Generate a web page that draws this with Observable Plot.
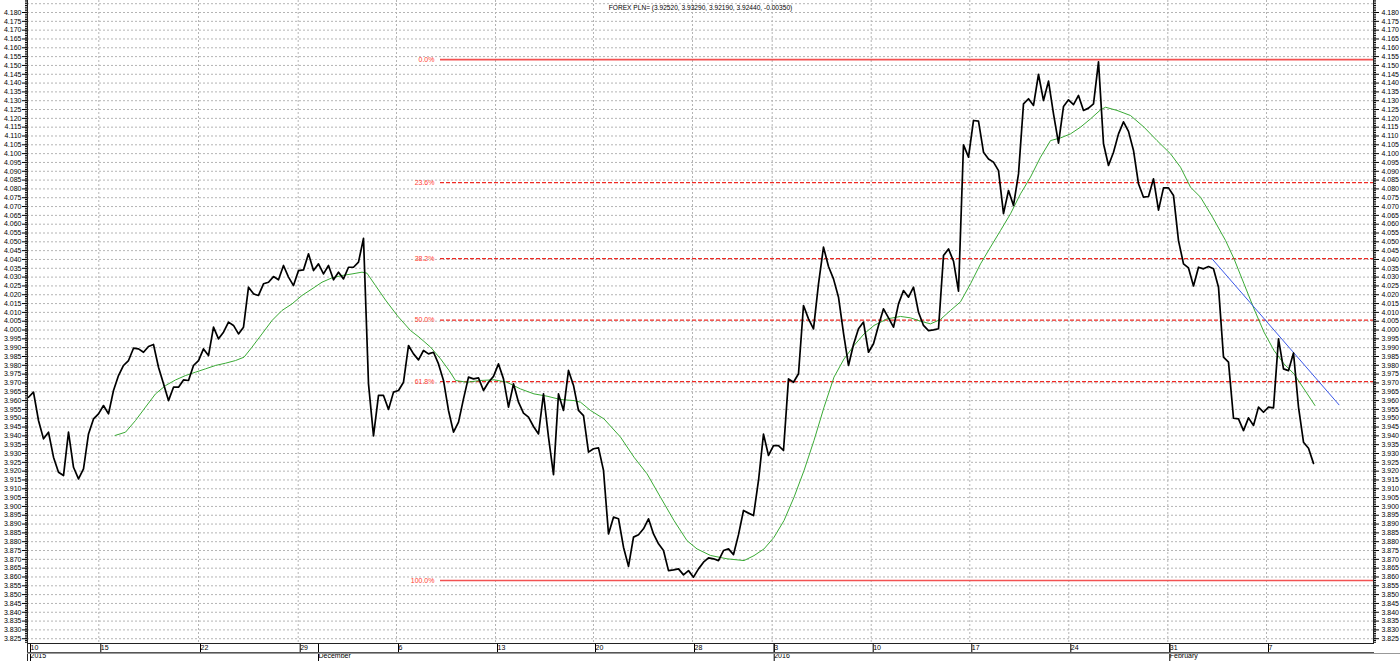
<!DOCTYPE html>
<html>
<head>
<meta charset="utf-8">
<script src="https://cdn.jsdelivr.net/npm/d3@7"></script>
<script src="https://cdn.jsdelivr.net/npm/@observablehq/plot@0.6"></script>
<style>
  html, body { margin: 0; padding: 0; background: #fff; }
  #chart { width: 1400px; height: 661px; }
</style>
</head>
<body>
<div id="chart"></div>
<script>
// ---- Data (x is a bar index; one bar ≈ 6 trading hours) ----
const title = "FOREX PLN= (3.92520, 3.93290, 3.92190, 3.92440, -0.00350)";

const price = [
  3.9619, 3.9648, 3.9487, 3.9383, 3.9421, 3.9279, 3.9194, 3.9175, 3.9421, 3.9222,
  3.9156, 3.9213, 3.9411, 3.9496, 3.9525, 3.9572, 3.9525, 3.9657, 3.9742, 3.9799,
  3.9827, 3.9897, 3.9893, 3.9874, 3.9907, 3.9918, 3.9789, 3.9695, 3.9600, 3.9676,
  3.9676, 3.9717, 3.9714, 3.9799, 3.9827, 3.9893, 3.9855, 4.0016, 3.9950, 3.9988,
  4.0045, 4.0026, 3.9978, 4.0016, 4.0243, 4.0205, 4.0196, 4.0262, 4.0271, 4.0303,
  4.0285, 4.0366, 4.0300, 4.0252, 4.0337, 4.0341, 4.0432, 4.0337, 4.0375, 4.0318,
  4.0366, 4.0285, 4.0328, 4.0290, 4.0356, 4.0356, 4.0385, 4.0520, 3.9695, 3.9400,
  3.9629, 3.9629, 3.9550, 3.9648, 3.9657, 3.9704, 3.9912, 3.9865, 3.9831, 3.9884,
  3.9865, 3.9874, 3.9808, 3.9714, 3.9544, 3.9421, 3.9478, 3.9610, 3.9733, 3.9723,
  3.9729, 3.9657, 3.9704, 3.9737, 3.9808, 3.9723, 3.9563, 3.9695, 3.9591, 3.9529,
  3.9506, 3.9453, 3.9411, 3.9638, 3.9393, 3.9180, 3.9638, 3.9544, 3.9771, 3.9686,
  3.9544, 3.9515, 3.9308, 3.9327, 3.9332, 3.9204, 3.8844, 3.8939, 3.8930, 3.8769,
  3.8660, 3.8826, 3.8839, 3.8873, 3.8930, 3.8844, 3.8788, 3.8750, 3.8636, 3.8640,
  3.8646, 3.8612, 3.8636, 3.8599, 3.8646, 3.8684, 3.8708, 3.8703, 3.8693, 3.8750,
  3.8759, 3.8727, 3.8840, 3.8977, 3.8962, 3.8948, 3.9147, 3.9410, 3.9289, 3.9345,
  3.9345, 3.9317, 3.9723, 3.9704, 3.9752, 4.0139, 4.0063, 4.0007, 4.0262, 4.0470,
  4.0360, 4.0290, 4.0186, 3.9982, 3.9799, 3.9918, 4.0007, 4.0045, 3.9874, 3.9922,
  4.0026, 4.0120, 4.0069, 4.0016, 4.0148, 4.0224, 4.0186, 4.0243, 4.0101, 4.0026,
  3.9997, 4.0001, 4.0007, 4.0422, 4.0460, 4.0390, 4.0220, 4.1050, 4.0980, 4.1188,
  4.1184, 4.1008, 4.0970, 4.0952, 4.0904, 4.0660, 4.0791, 4.0706, 4.0885, 4.1282,
  4.1311, 4.1273, 4.1450, 4.1301, 4.1411, 4.1226, 4.1060, 4.1267, 4.1305, 4.1278,
  4.1330, 4.1245, 4.1258, 4.1282, 4.1520, 4.1056, 4.0933, 4.1008, 4.1112, 4.1180,
  4.1126, 4.1018, 4.0829, 4.0753, 4.0757, 4.0857, 4.0680, 4.0806, 4.0806, 4.0763,
  4.0507, 4.0375, 4.0352, 4.0250, 4.0356, 4.0347, 4.0360, 4.0347, 4.0243, 3.9846,
  3.9818, 3.9500, 3.9496, 3.9430, 3.9502, 3.9459, 3.9563, 3.9534, 3.9563, 3.9559,
  3.9950, 3.9780, 3.9770, 3.9870, 3.9563, 3.9364, 3.9330, 3.9244
];

const maBar = [
  17.3, 19.4, 21.4, 23.4, 25.4, 27.4, 29.4, 31.4, 33.4, 35.4, 37.4, 39.4, 41.4, 43.1,
  44.7, 46.7, 48.7, 50.7, 52.7, 54.7, 56.7, 58.7, 60.7, 62.7, 64.7, 66.7, 67.7, 69.4,
  71.4, 73.8, 76.4, 78.1, 80.4, 82.4, 84.1, 85.4, 87.7, 90.4, 93.1, 95.7, 98.4, 101.1,
  103.7, 106.4, 109.1, 110.4, 112.4, 115.1, 118.4, 121.1, 123.7, 126.4, 129.1, 131.7,
  133.7, 136.4, 139.7, 143.1, 145.1, 147.1, 149.1, 151.1, 153.1, 155.1, 157.1, 159.1,
  161.1, 163.1, 165.1, 167.1, 169.1, 171.7, 174.4, 176.4, 178.4, 180.4, 182.4, 184.4,
  186.4, 188.4, 190.4, 192.4, 194.4, 196.4, 198.4, 200.4, 202.4, 204.4, 206.4, 208.4,
  210.4, 212.4, 214.4, 215.4, 217.7, 220.4, 223.1, 225.7, 228.4, 230.4, 232.4, 234.4,
  236.8, 239.4, 241.1, 243.1, 245.1, 247.1, 249.1, 251.1, 253.1, 255.1, 257.3
];
const maValue = [
  3.9402, 3.9421, 3.9487, 3.9563, 3.9638, 3.9685, 3.9717, 3.9742, 3.9761, 3.9780, 3.9799, 3.9812, 3.9827, 3.9846,
  3.9903, 3.9978, 4.0054, 4.0111, 4.0148, 4.0196, 4.0233, 4.0271, 4.0296, 4.0309, 4.0318, 4.0328, 4.0322, 4.0252,
  4.0170, 4.0080, 3.9997, 3.9960, 3.9903, 3.9837, 3.9771, 3.9714, 3.9704, 3.9714, 3.9718, 3.9704, 3.9666, 3.9638,
  3.9625, 3.9606, 3.9600, 3.9591, 3.9544, 3.9496, 3.9393, 3.9279, 3.9185, 3.9052, 3.8920, 3.8806,
  3.8759, 3.8722, 3.8703, 3.8693, 3.8721, 3.8759, 3.8825, 3.8920, 3.9052, 3.9203, 3.9374, 3.9562,
  3.9733, 3.9836, 3.9912, 3.9978, 4.0026, 4.0063, 4.0077, 4.0069, 4.0050, 4.0035, 4.0060, 4.0111,
  4.0160, 4.0262, 4.0375, 4.0470, 4.0564, 4.0659, 4.0772, 4.0867, 4.0980, 4.1074, 4.1089, 4.1112,
  4.1150, 4.1197, 4.1248, 4.1263, 4.1245, 4.1216, 4.1150, 4.1074, 4.0999, 4.0923, 4.0810, 4.0753,
  4.0640, 4.0508, 4.0404, 4.0262, 4.0120, 3.9988, 3.9884, 3.9808, 3.9751, 3.9666, 3.9572
];

const trendBar = [236.7, 262.1];
const trendValue = [4.0404, 3.9576];

const fibHigh = 4.1533;
const fibLow = 3.8580;
const fibRatios = [0, 0.236, 0.382, 0.5, 0.618, 1];
const fibLabels = ["0.0%", "23.6%", "38.2%", "50.0%", "61.8%", "100.0%"];
const fibStartBar = 82.4;

const dayTickBars = [0, 14.06, 34.0, 53.94, 73.6, 93.4, 113.0, 132.8, 148.74, 168.54, 188.26, 208.06, 227.86, 247.6];
const dayTickLabels = ["10", "15", "22", "29", "6", "13", "20", "28", "3", "10", "17", "24", "31", "7"];
const monthTickBars = [0, 57.6, 148.74, 227.86];
const monthTickLabels = ["2015", "December", "2016", "February"];

const yLabelMin = 3.825, yLabelMax = 4.180, yStep = 0.005;
const xDomain = [-0.2, 269];
const yDomain = [3.82229, 4.18681];

// ---- Derived tables ----
const priceData = price.map((v, i) => ({bar: i, value: v}));
const maData = maBar.map((b, i) => ({bar: b, value: maValue[i]}));
const trendData = trendBar.map((b, i) => ({bar: b, value: trendValue[i]}));
const fibData = fibRatios.map((r, i) => ({
  level: fibHigh - r * (fibHigh - fibLow),
  label: fibLabels[i],
  solid: r === 0 || r === 1
}));
const nY = Math.round((yLabelMax - yLabelMin) / yStep);
const yTicks = d3.range(0, nY + 1).map(i => +(yLabelMin + i * yStep).toFixed(3));
const yGrid = d3.range(0, nY + 2).map(i => +(yLabelMin + i * yStep).toFixed(3));
const yMinor = d3.range(0, Math.round((yDomain[1] - 3.823) / 0.001) + 1).map(i => +(3.823 + i * 0.001).toFixed(3));
const dayMap = new Map(dayTickBars.map((b, i) => [b, dayTickLabels[i]]));
const monthMap = new Map(monthTickBars.map((b, i) => [b, monthTickLabels[i]]));
const fmt = d3.format(".3f");

const ML = 27, MR = 27, MB = 18, W = 1400, H = 661;

const chart = Plot.plot({
  width: W,
  height: H,
  marginLeft: ML,
  marginRight: MR,
  marginTop: 0,
  marginBottom: MB,
  x: {domain: xDomain, axis: null, label: null},
  y: {domain: yDomain, axis: null, label: null},
  style: {fontFamily: "'Liberation Sans', Arial, sans-serif", fontSize: "7px", background: "#fff", color: "#000", overflow: "visible"},
  marks: [
    Plot.gridY(yGrid, {stroke: "#b4b4b4", strokeOpacity: 1, strokeDasharray: "2,2"}),
    Plot.gridX(dayTickBars.slice(1), {stroke: "#b4b4b4", strokeOpacity: 1, strokeDasharray: "2,2"}),
    // Fibonacci retracement
    Plot.ruleY(fibData.filter(d => !d.solid), {y: "level", x1: fibStartBar, x2: xDomain[1], stroke: "#ee2a24", strokeWidth: 1.3, strokeDasharray: "4,2"}),
    Plot.ruleY(fibData.filter(d => d.solid), {y: "level", x1: fibStartBar, x2: xDomain[1], stroke: "#f25252", strokeWidth: 1.6}),
    Plot.text(fibData, {x: fibStartBar, y: "level", text: "label", textAnchor: "end", dx: -6, fill: "#ff3b30", fontSize: 7}),
    // moving average + trend line
    Plot.line(maData, {x: "bar", y: "value", stroke: "#3aaa35", strokeWidth: 1}),
    Plot.line(trendData, {x: "bar", y: "value", stroke: "#3a57e8", strokeWidth: 1}),
    // price
    Plot.line(priceData, {x: "bar", y: "value", stroke: "#000", strokeWidth: 1.7, strokeLinejoin: "round"}),
    // title
    Plot.text([title], {frameAnchor: "top", dy: 5, fontSize: 6.6, fill: "#000"}),
    // y axes
    Plot.axisY(yTicks, {anchor: "left", label: null, tickSize: 5, tickPadding: 1, tickFormat: fmt, fontSize: 7}),
    Plot.axisY(yMinor, {anchor: "left", label: null, tickSize: 2, tickFormat: () => ""}),
    Plot.axisY(yTicks, {anchor: "right", label: null, tickSize: 5, tickPadding: 3, tickFormat: fmt, fontSize: 7}),
    Plot.axisY(yMinor, {anchor: "right", label: null, tickSize: 2, tickFormat: () => ""}),
    // x axes (two rows)
    Plot.axisX(dayTickBars, {anchor: "bottom", label: null, tickSize: 9, tickPadding: -7, textAnchor: "start", dx: 2, tickFormat: d => dayMap.get(d), fontSize: 7}),
    Plot.axisX(monthTickBars, {anchor: "bottom", label: null, tickSize: 18, tickPadding: -8, textAnchor: "start", dx: 2, tickFormat: d => monthMap.get(d), fontSize: 7})
  ]
});

// frame chrome (axis box lines)
const g = d3.select(chart).append("g").attr("stroke-width", 1).attr("fill", "none");
const bottomY = H - MB;
g.append("line").attr("x1", ML + 0.5).attr("x2", ML + 0.5).attr("y1", 0).attr("y2", H).attr("stroke", "#222");
g.append("line").attr("x1", W - MR + 0.5).attr("x2", W - MR + 0.5).attr("y1", 0).attr("y2", bottomY + 1).attr("stroke", "#222");
g.append("line").attr("x1", ML).attr("x2", W - MR + 1).attr("y1", bottomY + 0.5).attr("y2", bottomY + 0.5).attr("stroke", "#222");
g.append("line").attr("x1", ML).attr("x2", W - MR + 1).attr("y1", bottomY + 9.5).attr("y2", bottomY + 9.5).attr("stroke", "#555");
g.append("line").attr("x1", ML).attr("x2", W).attr("y1", bottomY + 10.5).attr("y2", bottomY + 10.5).attr("stroke", "#999");

document.getElementById("chart").appendChild(chart);
</script>
</body>
</html>
